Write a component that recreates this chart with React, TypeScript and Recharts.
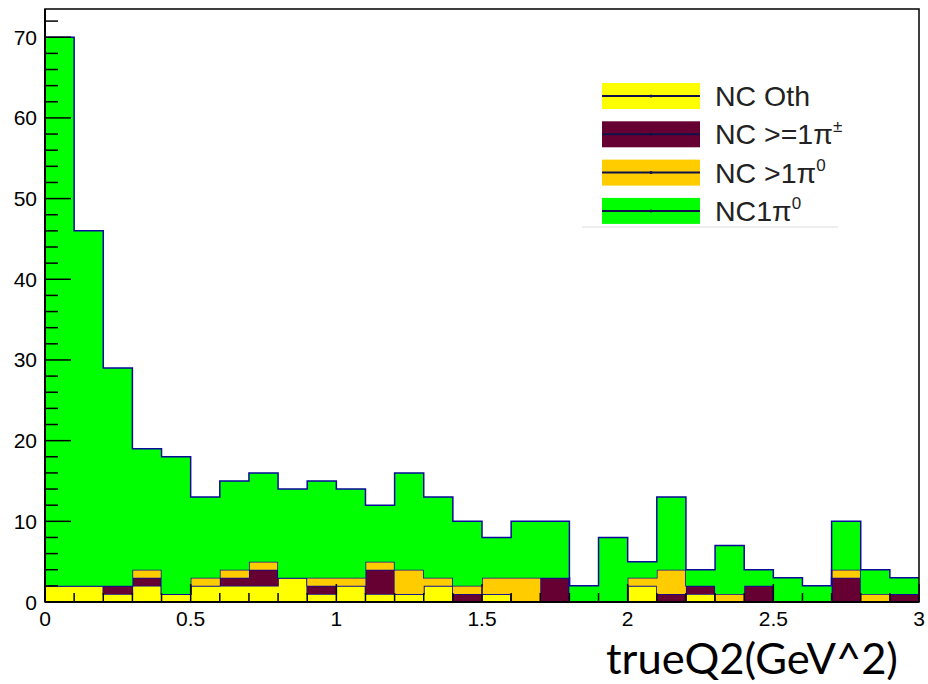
import React from 'react'
import { AreaChart, Area, XAxis, YAxis, Legend, ReferenceArea } from 'recharts'

// bin low edges, last entry closes the final bin
const binEdges = [0, 0.1, 0.2, 0.3, 0.4, 0.5, 0.6, 0.7, 0.8, 0.9, 1, 1.1, 1.2, 1.3, 1.4, 1.5, 1.6, 1.7, 1.8, 1.9, 2, 2.1, 2.2, 2.3, 2.4, 2.5, 2.6, 2.7, 2.8, 2.9, 3]

const ncOth = [2, 2, 1, 2, 1, 2, 2, 2, 3, 1, 2, 1, 1, 2, 0, 1, 0, 0, 0, 0, 2, 0, 1, 0, 0, 0, 0, 0, 0, 0]
const ncPiPm = [0, 0, 1, 1, 0, 0, 1, 2, 0, 1, 0, 3, 0, 0, 1, 0, 0, 3, 0, 0, 0, 1, 1, 0, 2, 0, 0, 3, 0, 1]
const ncMultiPi0 = [0, 0, 0, 1, 0, 1, 1, 1, 0, 1, 1, 1, 3, 1, 1, 2, 3, 0, 0, 0, 1, 3, 0, 1, 0, 0, 0, 1, 1, 0]
const nc1Pi0 = [68, 44, 27, 15, 17, 10, 11, 11, 11, 12, 11, 7, 12, 10, 8, 5, 7, 7, 2, 8, 2, 9, 2, 6, 2, 3, 2, 6, 3, 2]

const xTicks = [0, 0.1, 0.2, 0.3, 0.4, 0.5, 0.6, 0.7, 0.8, 0.9, 1, 1.1, 1.2, 1.3, 1.4, 1.5, 1.6, 1.7, 1.8, 1.9, 2, 2.1, 2.2, 2.3, 2.4, 2.5, 2.6, 2.7, 2.8, 2.9, 3]
const yTicks = [0, 2, 4, 6, 8, 10, 12, 14, 16, 18, 20, 22, 24, 26, 28, 30, 32, 34, 36, 38, 40, 42, 44, 46, 48, 50, 52, 54, 56, 58, 60, 62, 64, 66, 68, 70, 72]

const series = [
  { key: 'oth', values: ncOth, color: '#ffff00', label: 'NC Oth', sup: '' },
  { key: 'pipm', values: ncPiPm, color: '#660033', label: 'NC >=1\u03c0', sup: '\u00b1' },
  { key: 'multi', values: ncMultiPi0, color: '#ffcc00', label: 'NC >1\u03c0', sup: '0' },
  { key: 'single', values: nc1Pi0, color: '#00ff00', label: 'NC1\u03c0', sup: '0' },
]

const data = binEdges.map((x, i) => {
  const row: Record<string, number> = { x }
  const b = Math.min(i, ncOth.length - 1)
  series.forEach((s) => (row[s.key] = s.values[b]))
  return row
})

const FONT = '"Liberation Sans", Arial, Helvetica, sans-serif'
const OUTLINE = '#0a0a9a'

const XTick = (props: any) => {
  const { x, y, payload } = props
  const v = payload.value
  const major = Math.abs(v * 2 - Math.round(v * 2)) < 1e-6
  return (
    <g>
      <line x1={x} x2={x} y1={y} y2={y - (major ? 18 : 9)} stroke="#000" strokeWidth={1.5} />
      {major && (
        <text x={x} y={y + 24} textAnchor="middle" fontFamily={FONT} fontSize={21} fill="#000">
          {String(v)}
        </text>
      )}
    </g>
  )
}

const YTick = (props: any) => {
  const { x, y, payload } = props
  const v = payload.value
  const major = v % 10 === 0
  return (
    <g>
      <line x1={x} x2={x + (major ? 26 : 13)} y1={y} y2={y} stroke="#000" strokeWidth={1.5} />
      {major && (
        <text x={x - 8} y={y + 7.5} textAnchor="end" fontFamily={FONT} fontSize={21} fill="#000">
          {String(v)}
        </text>
      )}
    </g>
  )
}

const renderLegend = () => (
  <svg width={262} height={156}>
    {series.map((s, i) => {
      const top = 8 + i * 38.3
      return (
        <g key={s.key}>
          <rect x={20} y={top} width={98} height={26} fill={s.color} />
          <line x1={20} x2={118} y1={top + 13} y2={top + 13} stroke="#10104a" strokeWidth={2} />
          <circle cx={69} cy={top + 13} r={1.5} fill="#10104a" />
          <text x={133} y={top + 23} fontFamily={FONT} fontSize={28.5} fill="#222">
            {s.label}
            {s.sup && (
              <tspan fontSize={17} dy={-12}>
                {s.sup}
              </tspan>
            )}
          </text>
        </g>
      )
    })}
    <line x1={0} x2={256} y1={152} y2={152} stroke="#ddd" strokeWidth={1} />
  </svg>
)

export default function App() {
  return (
    <div style={{ position: 'absolute', left: 0, top: 0, background: '#fff' }}>
      <AreaChart width={928} height={684} data={data} margin={{ top: 9, right: 9, bottom: 0, left: 0 }}>
        {series.map((s) => (
          <Area
            key={s.key}
            dataKey={s.key}
            name={s.label}
            stackId="1"
            type="stepAfter"
            stroke={OUTLINE}
            strokeWidth={1.5}
            fill={s.color}
            fillOpacity={1}
            dot={false}
            activeDot={false}
            isAnimationActive={false}
          />
        ))}
        <ReferenceArea x1={0} x2={3} y1={0} y2={73.5} fill="none" stroke="#000" strokeWidth={1.5} ifOverflow="visible" />
        <XAxis
          dataKey="x"
          type="number"
          domain={[0, 3]}
          ticks={xTicks}
          interval={0}
          height={82}
          tickSize={0}
          tickMargin={0}
          tickLine={false}
          axisLine={{ stroke: '#000', strokeWidth: 2 }}
          tick={(p: any) => <XTick {...p} />}
          label={{
            content: () => (
              <text
                x={606}
                y={674}
                fontFamily="Lato, 'Open Sans', sans-serif"
                fontSize={42}
                fill="#000"
                textLength={292}
                lengthAdjust="spacingAndGlyphs"
              >
                trueQ2(GeV^2)
              </text>
            ),
          }}
        />
        <YAxis
          type="number"
          domain={[0, 73.5]}
          ticks={yTicks}
          interval={0}
          width={45}
          tickSize={0}
          tickMargin={0}
          tickLine={false}
          axisLine={{ stroke: '#000', strokeWidth: 2 }}
          tick={(p: any) => <YTick {...p} />}
        />
        <Legend
          layout="horizontal"
          verticalAlign="middle"
          align="center"
          content={renderLegend}
          wrapperStyle={{ left: 582, top: 75, width: 262, height: 156 }}
        />
      </AreaChart>
    </div>
  )
}
